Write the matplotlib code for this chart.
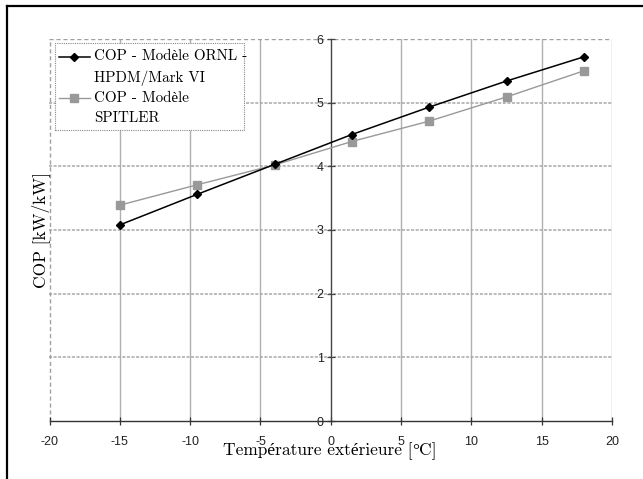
import numpy as np
import matplotlib
matplotlib.use("Agg")
import matplotlib.pyplot as plt
from matplotlib.lines import Line2D
from matplotlib.patches import Rectangle

# COP en fonction de la temperature exterieure
temp_ext = [-15, -9.5, -4, 1.5, 7, 12.5, 18]
cop_ornl = [3.08, 3.56, 4.03, 4.50, 4.93, 5.34, 5.72]
cop_spitler = [3.39, 3.71, 4.02, 4.39, 4.71, 5.09, 5.50]

label_ornl = "COP - Modèle ORNL -\nHPDM/Mark VI"
label_spitler = "COP - Modèle\nSPITLER"

x_ticks = [-20, -15, -10, -5, 0, 5, 10, 15, 20]
y_ticks = [0, 1, 2, 3, 4, 5, 6]

serif = ["cmr10", "Liberation Serif"]
tick_font = {"family": "Liberation Sans", "size": 9}

# cmr10 n'a pas de vrai signe degre : ce morceau passe en Liberation Serif
xlabel_parts = [("Température extérieure [", serif),
                ("°", ["Liberation Serif"]),
                ("C]", serif)]

W, H = 643, 479
fig = plt.figure(figsize=(W / 100, H / 100), dpi=100)
ax = fig.add_axes([49.5 / W, 1 - 421 / H, 562.5 / W, 382 / H])

# grille
for x in x_ticks[1:-1]:
    if x != 0:
        ax.axvline(x, color="#b0b0b0", lw=1.0, zorder=1)
for y in y_ticks[1:-1]:
    ax.axhline(y, color="#a8a8a8", lw=1.1, ls=(0, (2, 1)), zorder=1)

# bords de la zone de trace
ax.axhline(6, color="#a0a0a0", lw=1.0, ls=(0, (3, 2)), zorder=1)
ax.axvline(-20, color="#a0a0a0", lw=1.0, ls=(0, (3, 2)), zorder=1)
ax.axvline(20, color="#b0b0b0", lw=1.0, zorder=1)

ax.plot(temp_ext, cop_spitler, color="#999999", lw=1.0, marker="s",
        markersize=5.2, zorder=3)
ax.plot(temp_ext, cop_ornl, color="black", lw=1.1, marker="D",
        markersize=4.3, zorder=4)

ax.set_xlim(-20, 20)
ax.set_ylim(0, 6)
ax.set_xticks(x_ticks)
ax.set_yticks(y_ticks)

for s in ["top", "right"]:
    ax.spines[s].set_visible(False)
ax.spines["left"].set_position(("data", 0))
ax.spines["left"].set_color("#444444")
ax.spines["left"].set_linewidth(1.0)
ax.spines["bottom"].set_color("#333333")
ax.spines["bottom"].set_linewidth(1.0)
ax.spines["bottom"].set_linestyle((0, (3, 1)))

ax.tick_params(axis="x", direction="inout", length=6, width=0.9,
               color="#333333", pad=8, labelcolor="#222222")
ax.tick_params(axis="y", direction="inout", length=6, width=0.9,
               color="#444444", pad=2, labelcolor="#222222")
ax.set_xticklabels([str(t) for t in x_ticks], fontdict=tick_font)
ax.set_yticklabels([str(t) for t in y_ticks], fontdict=tick_font)

ax.set_ylabel("COP [kW/kW]", family=serif, fontsize=12.5, va="center")
ax.yaxis.set_label_coords(-0.0151, 0.5)

# titre de l'axe x, morceau par morceau sur la meme ligne de base
renderer = fig.canvas.get_renderer()
pieces = [fig.text(0, 0, s, family=f, fontsize=12.5, ha="left", va="baseline")
          for s, f in xlabel_parts]
widths = [t.get_window_extent(renderer).width for t in pieces]
x_cur = 330 - sum(widths) / 2
for t, w in zip(pieces, widths):
    t.set_position((x_cur / W, 1 - 455 / H))
    x_cur += w

# legende
lx0, lx1 = (55 - 49.5) / 562.5, (244 - 49.5) / 562.5
ly0, ly1 = (421 - 130) / 382, (421 - 43) / 382
ax.add_patch(Rectangle((lx0, ly0), lx1 - lx0, ly1 - ly0, transform=ax.transAxes,
                       facecolor="white", edgecolor="#888888", lw=0.8,
                       ls=(0, (1, 1)), zorder=5))
hx0, hx1, tx = (59 - 49.5) / 562.5, (90 - 49.5) / 562.5, (94 - 49.5) / 562.5
for lab, y_pix, col, mk, ms, lw in [
        (label_ornl, 57, "black", "D", 4.3, 1.1),
        (label_spitler, 98, "#999999", "s", 5.2, 1.0)]:
    yy = (421 - y_pix) / 382
    ax.add_line(Line2D([hx0, hx1], [yy, yy], transform=ax.transAxes,
                       color=col, lw=lw, zorder=6))
    ax.add_line(Line2D([(hx0 + hx1) / 2], [yy], transform=ax.transAxes,
                       color=col, marker=mk, markersize=ms, zorder=6))
    ax.text(tx, (421 - y_pix - 10.5) / 382, lab, transform=ax.transAxes,
            family=serif, fontsize=10.8, va="center", ha="left",
            linespacing=1.6, zorder=6)

# cadre de la figure
fig.add_artist(Line2D([7 / W, 1], [1 - 6 / H] * 2, color="black", lw=1.6,
                      transform=fig.transFigure))
fig.add_artist(Line2D([7 / W] * 2, [0, 1 - 6 / H], color="black", lw=1.6,
                      transform=fig.transFigure))

fig.savefig("out.png", dpi=100)
